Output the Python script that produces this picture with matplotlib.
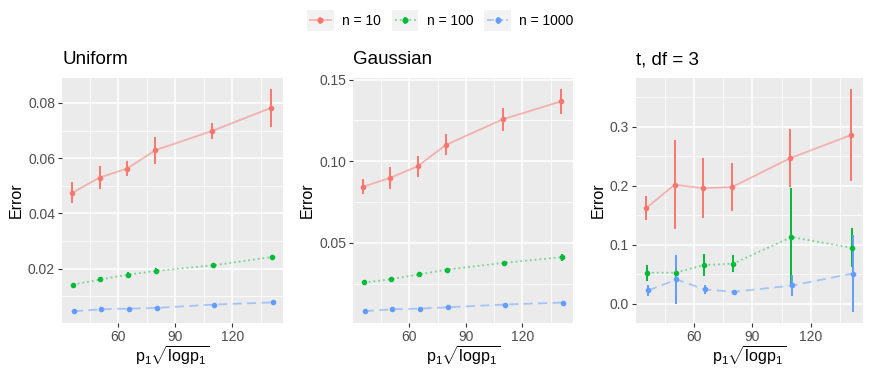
import numpy as np
import matplotlib
matplotlib.use('Agg')
import matplotlib.pyplot as plt
from matplotlib.patches import Rectangle
from matplotlib.lines import Line2D
from matplotlib.ticker import MultipleLocator, FormatStrFormatter

plt.rcParams['font.family'] = ['Liberation Sans', 'DejaVu Sans']
plt.rcParams['mathtext.fontset'] = 'custom'
plt.rcParams['mathtext.rm'] = 'Liberation Sans'
plt.rcParams['mathtext.it'] = 'Liberation Sans:italic'

x = [36, 50.5, 65, 80, 110, 141]
series = ['n = 10', 'n = 100', 'n = 1000']
titles = ['Uniform', 'Gaussian', 't, df = 3']

# mean error and half-width of interval, per panel, per n
unif_mean = [[0.0474, 0.0530, 0.0562, 0.0629, 0.0699, 0.0782],
             [0.0142, 0.0161, 0.0178, 0.0192, 0.0212, 0.0242],
             [0.00455, 0.0053, 0.0055, 0.0058, 0.0070, 0.0078]]
unif_err = [[0.0038, 0.0043, 0.0026, 0.0049, 0.0028, 0.0068],
            [0.0007, 0.0009, 0.0010, 0.0010, 0.0009, 0.0008],
            [0.0002, 0.0002, 0.0002, 0.0002, 0.0002, 0.0002]]
gaus_mean = [[0.0843, 0.0898, 0.0969, 0.1100, 0.1256, 0.1366],
             [0.0257, 0.0277, 0.0306, 0.0336, 0.0377, 0.0412],
             [0.0081, 0.0093, 0.0097, 0.0105, 0.0122, 0.0134]]
gaus_err = [[0.0045, 0.0069, 0.0064, 0.0065, 0.0069, 0.0075],
            [0.0007, 0.0015, 0.0015, 0.0012, 0.0010, 0.0022],
            [0.0004, 0.0004, 0.0004, 0.0004, 0.0004, 0.0004]]
t_mean = [[0.1622, 0.2017, 0.1961, 0.1977, 0.2468, 0.2857],
          [0.0526, 0.0526, 0.0656, 0.0679, 0.1130, 0.0949],
          [0.0226, 0.0412, 0.0243, 0.0203, 0.0310, 0.0513]]
t_err = [[0.0198, 0.0750, 0.0516, 0.0412, 0.0490, 0.0780],
         [0.0133, 0.0096, 0.0186, 0.0144, 0.0830, 0.0330],
         [0.0090, 0.0420, 0.0070, 0.0020, 0.0180, 0.0650]]

means = [unif_mean, gaus_mean, t_mean]
errs = [unif_err, gaus_err, t_err]
ytick_major = [0.02, 0.05, 0.1]
ytick_fmt = ['%.2f', '%.2f', '%.1f']

colors = ['#F8766D', '#00BA38', '#619CFF']
styles = ['-', ':', (0, (5, 3))]
dodge = [-0.5, 0.0, 0.5]


class KeyHandler:
    # ggplot-like legend key: grey square, faded line, solid point
    def legend_artist(self, legend, orig, fontsize, handlebox):
        x0, y0 = -handlebox.xdescent, -handlebox.ydescent
        w, h = handlebox.width, handlebox.height
        tr = handlebox.get_transform()
        bg = Rectangle((x0, y0), w, h, facecolor='#F2F2F2', edgecolor='none',
                       transform=tr)
        ln = Line2D([x0 + 2, x0 + w - 2], [y0 + h / 2] * 2, color=orig.get_color(),
                    ls=orig.get_linestyle(), lw=1.3, alpha=0.5, transform=tr)
        pt = Line2D([x0 + w / 2], [y0 + h / 2], marker='o', ms=3.4,
                    color=orig.get_color(), transform=tr)
        vb = Line2D([x0 + w / 2] * 2, [y0 + h * 0.38, y0 + h * 0.62],
                    color=orig.get_color(), lw=1.2, transform=tr)
        for a in (bg, ln, vb, pt):
            handlebox.add_artist(a)
        return bg


fig = plt.figure(figsize=(8.72, 3.82), dpi=100)
lefts = [62, 353, 636]
rights = [283, 573, 863]
top, bottom = 78, 323
W, H = 872, 382

handles = []
for p in range(3):
    ax = fig.add_axes([lefts[p] / W, 1 - bottom / H,
                       (rights[p] - lefts[p]) / W, (bottom - top) / H])
    ax.set_facecolor('#EBEBEB')
    for s in range(3):
        xs = np.array(x) + dodge[s]
        m = np.array(means[p][s])
        e = np.array(errs[p][s])
        ax.plot(xs, m, color=colors[s], ls=styles[s], lw=1.3, alpha=0.5, zorder=3)
        ax.errorbar(xs, m, yerr=e, fmt='o', color=colors[s], ms=3.0,
                    elinewidth=1.4, capsize=0, zorder=4)
        if p == 0:
            handles.append(Line2D([], [], color=colors[s], ls=styles[s]))
    allv = np.concatenate([np.array(means[p][s]) + sg * np.array(errs[p][s])
                           for s in range(3) for sg in (-1, 1)])
    lo, hi = allv.min(), allv.max()
    pad = (hi - lo) * 0.05
    ax.set_ylim(lo - pad, hi + pad)
    xr = x[-1] - x[0] + 1.0
    ax.set_xlim(x[0] - 0.5 - xr * 0.05, x[-1] + 0.5 + xr * 0.05)
    ax.xaxis.set_major_locator(MultipleLocator(30))
    ax.xaxis.set_minor_locator(MultipleLocator(15))
    ax.yaxis.set_major_locator(MultipleLocator(ytick_major[p]))
    ax.yaxis.set_minor_locator(MultipleLocator(ytick_major[p] / 2))
    ax.yaxis.set_major_formatter(FormatStrFormatter(ytick_fmt[p]))
    ax.grid(which='major', color='white', lw=1.1, zorder=0)
    ax.grid(which='minor', color='white', lw=0.55, zorder=0)
    ax.set_axisbelow(True)
    for sp in ax.spines.values():
        sp.set_visible(False)
    ax.tick_params(which='major', length=3, width=0.8, color='#333333',
                   labelsize=10, labelcolor='#4D4D4D', pad=2)
    ax.tick_params(which='minor', length=0)
    ax.set_ylabel('Error', fontsize=11.5, labelpad=3)
    ax.set_xlabel(r'$\mathrm{p_1\sqrt{logp_1}}$', fontsize=11.5, labelpad=1)
    ax.set_title(titles[p], loc='left', fontsize=13.5, pad=10)

fig.legend(handles, series, loc='center', bbox_to_anchor=(0.505, 0.947),
           ncol=3, frameon=False, fontsize=10, handlelength=1.9,
           handleheight=1.9, handletextpad=0.6, columnspacing=0.8,
           handler_map={Line2D: KeyHandler()})

fig.savefig('out.png', dpi=100)
